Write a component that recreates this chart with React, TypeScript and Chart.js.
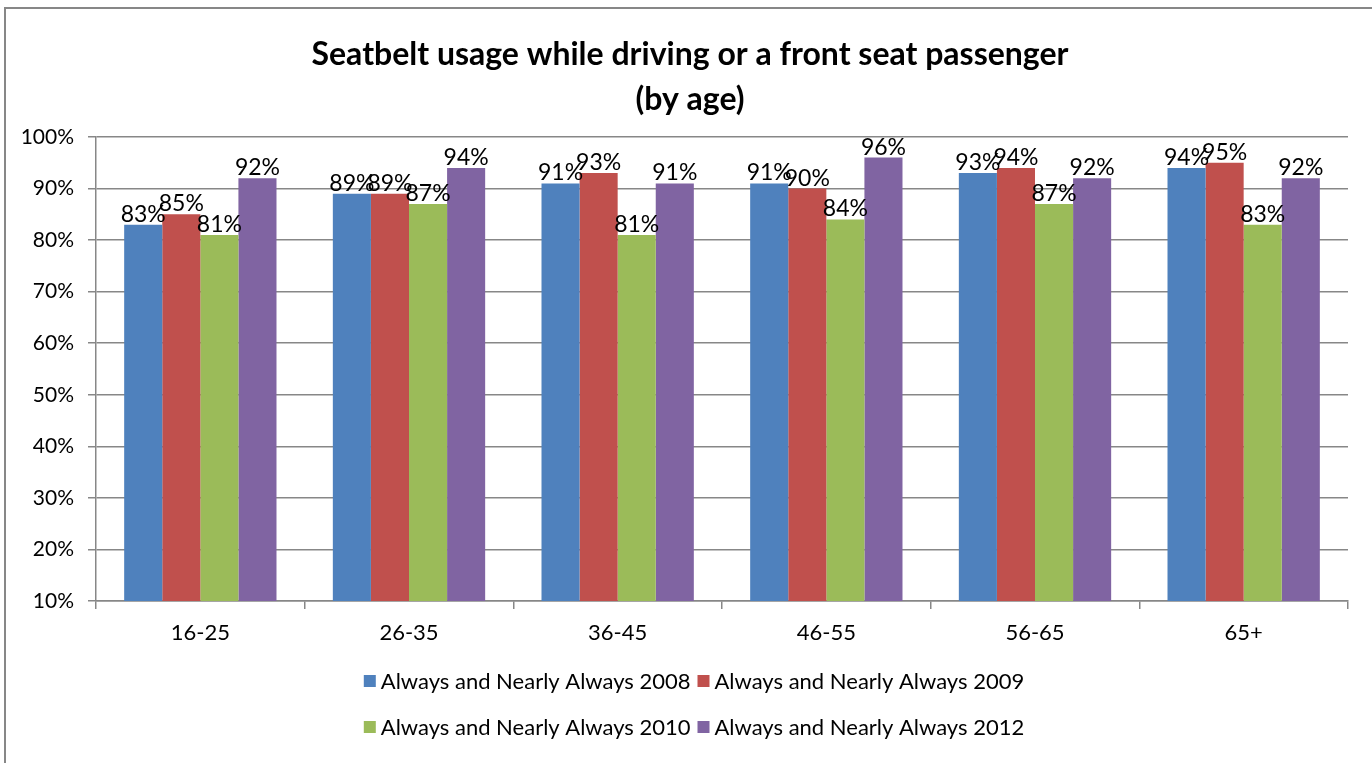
import React, { useEffect, useRef } from "react";
import { Chart, registerables } from "chart.js";

Chart.register(...registerables);

const categories = ["16-25", "26-35", "36-45", "46-55", "56-65", "65+"];
const values2008 = [83, 89, 91, 91, 93, 94];
const values2009 = [85, 89, 93, 90, 94, 95];
const values2010 = [81, 87, 81, 84, 87, 83];
const values2012 = [92, 94, 91, 96, 92, 92];
const seriesNames = [
  "Always and Nearly Always 2008",
  "Always and Nearly Always 2009",
  "Always and Nearly Always 2010",
  "Always and Nearly Always 2012",
];
const seriesColors = ["#4F81BD", "#C0504D", "#9BBB59", "#8064A2"];
const titleLines = ["Seatbelt usage while driving or a front seat passenger", "(by age)"];
const yMin = 10;
const yMax = 100;
const yStep = 10;

const FONT = 'Lato, "Open Sans", "DejaVu Sans", sans-serif';
const W = 1372;
const H = 763;

const framePlugin = {
  id: "frame",
  beforeDraw(chart: any) {
    const ctx = chart.ctx;
    ctx.save();
    ctx.fillStyle = "#ffffff";
    ctx.fillRect(0, 0, chart.width, chart.height);
    ctx.strokeStyle = "#878787";
    ctx.lineWidth = 2;
    ctx.beginPath();
    ctx.moveTo(5, chart.height);
    ctx.lineTo(5, 8);
    ctx.lineTo(chart.width, 8);
    ctx.stroke();
    ctx.restore();
  },
};

const titlePlugin = {
  id: "twoLineTitle",
  afterDraw(chart: any) {
    const ctx = chart.ctx;
    ctx.save();
    ctx.fillStyle = "#000000";
    ctx.font = `bold 32px ${FONT}`;
    ctx.textAlign = "center";
    ctx.textBaseline = "middle";
    const cx = 690;
    const ys = [55, 100];
    titleLines.forEach((t, i) => ctx.fillText(t, cx, ys[i]));
    ctx.restore();
  },
};

const valueLabelPlugin = {
  id: "valueLabels",
  afterDatasetsDraw(chart: any) {
    const ctx = chart.ctx;
    ctx.save();
    ctx.fillStyle = "#000000";
    ctx.font = `23px ${FONT}`;
    ctx.textAlign = "center";
    ctx.textBaseline = "alphabetic";
    chart.data.datasets.forEach((ds: any, di: number) => {
      const meta = chart.getDatasetMeta(di);
      meta.data.forEach((bar: any, i: number) => {
        ctx.fillText(`${ds.data[i]}%`, bar.x, bar.y - 3);
      });
    });
    ctx.restore();
  },
};

const legendPlugin = {
  id: "gridLegend",
  afterDraw(chart: any) {
    const ctx = chart.ctx;
    ctx.save();
    ctx.font = `22px ${FONT}`;
    ctx.textBaseline = "middle";
    ctx.textAlign = "left";
    const box = 12;
    const gap = 5;
    const itemGap = 7;
    const rowsY = [681, 727];
    const ds = chart.data.datasets;
    for (let r = 0; r < 2; r++) {
      const items = [ds[r * 2], ds[r * 2 + 1]];
      const widths = items.map((d: any) => box + gap + ctx.measureText(d.label).width);
      const total = widths[0] + itemGap + widths[1];
      let x = 694 - total / 2;
      items.forEach((d: any, k: number) => {
        ctx.fillStyle = d.backgroundColor;
        ctx.fillRect(x, rowsY[r] - box / 2, box, box);
        ctx.fillStyle = "#000000";
        ctx.fillText(d.label, x + box + gap, rowsY[r] + 1);
        x += widths[k] + itemGap;
      });
    }
    ctx.restore();
  },
};

export default function App() {
  const canvasRef = useRef<HTMLCanvasElement | null>(null);

  useEffect(() => {
    if (!canvasRef.current) return;
    const seriesValues = [values2008, values2009, values2010, values2012];
    const chart = new Chart(canvasRef.current, {
      type: "bar",
      data: {
        labels: categories,
        datasets: seriesValues.map((vals, i) => ({
          label: seriesNames[i],
          data: vals,
          backgroundColor: seriesColors[i],
          borderWidth: 0,
          categoryPercentage: 0.73,
          barPercentage: 1,
        })),
      },
      options: {
        responsive: false,
        animation: false,
        devicePixelRatio: 1,
        layout: { padding: { top: 137, left: 0, right: 24, bottom: 102 } },
        plugins: {
          legend: { display: false },
          title: { display: false },
          tooltip: { enabled: false },
        },
        scales: {
          x: {
            offset: true,
            grid: {
              offset: true,
              drawOnChartArea: false,
              drawTicks: true,
              tickLength: 8,
              color: "#878787",
              lineWidth: 1.5,
            },
            border: { display: true, color: "#878787", width: 1.5 },
            ticks: {
              color: "#000000",
              font: { family: FONT, size: 22 },
              padding: 11,
            },
            afterFit(scale: any) {
              scale.height = 60;
            },
          },
          y: {
            min: yMin,
            max: yMax,
            ticks: {
              stepSize: yStep,
              color: "#000000",
              font: { family: FONT, size: 21 },
              padding: 14,
              callback: (v: any) => `${v}%`,
            },
            grid: {
              color: "#878787",
              lineWidth: 1.5,
              tickLength: 8,
              drawTicks: true,
            },
            border: { display: true, color: "#878787", width: 1.5 },
            afterFit(scale: any) {
              scale.width = 96;
            },
          },
        },
      },
      plugins: [framePlugin, titlePlugin, valueLabelPlugin, legendPlugin],
    });
    return () => chart.destroy();
  }, []);

  return (
    <div style={{ position: "fixed", left: 0, top: 0, width: W, height: H, background: "#fff" }}>
      <canvas ref={canvasRef} width={W} height={H} style={{ display: "block", width: W, height: H }} />
    </div>
  );
}
